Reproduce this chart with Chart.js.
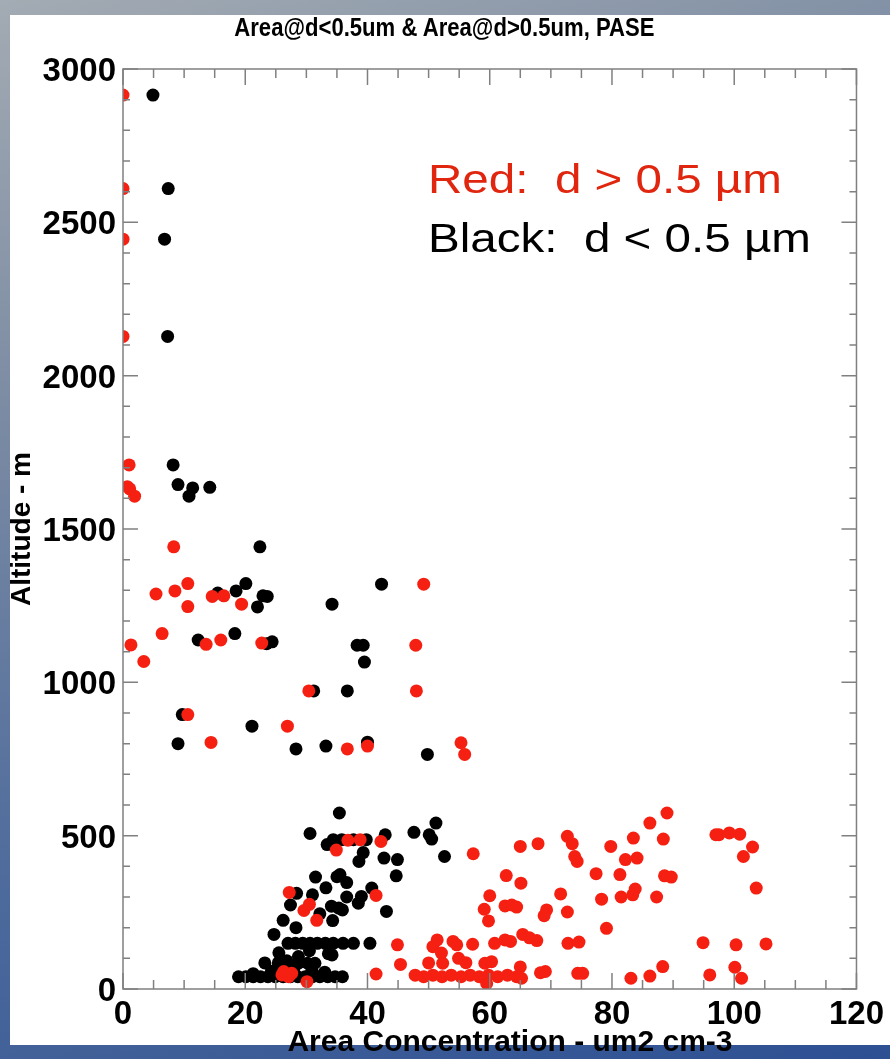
<!DOCTYPE html>
<html>
<head>
<meta charset="utf-8">
<title>Area@d<0.5um & Area@d>0.5um, PASE</title>
<script src="https://cdn.jsdelivr.net/npm/chart.js@4.4.1/dist/chart.umd.min.js"></script>
<style>
  html, body { margin: 0; padding: 0; }
  body {
    width: 890px; height: 1059px; position: relative; overflow: hidden;
    background: linear-gradient(160deg, #a3abb3 0%, #7b8ba3 30%, #4d6a9c 65%, #2d5093 100%);
  }
  #panel { position: absolute; left: 10px; top: 15px; width: 880px; height: 1030px; background: #fff; }
  #wrap { position: absolute; left: 0; top: 0; width: 890px; height: 1059px; }
  #title {
    position: absolute; left: 0; top: 14px; width: 890px; text-align: center;
    font: bold 26px "Liberation Sans", Arial, sans-serif; line-height: 1;
    transform: scaleX(0.85); transform-origin: 441px 0;
  }
  #xtitle {
    position: absolute; left: 0; top: 1026px; width: 1020px; text-align: center;
    font: bold 30px "Liberation Sans", Arial, sans-serif; line-height: 1; white-space: pre;
  }
  .note {
    position: absolute; left: 428px; white-space: pre;
    font: 41px "Liberation Sans", Arial, sans-serif; line-height: 1;
    transform: scaleX(1.16); transform-origin: 0 0;
  }
</style>
</head>
<body>
<div id="panel"></div>
<div id="wrap"><canvas id="chart" width="890" height="1059"></canvas></div>
<div id="title">Area@d&lt;0.5um &amp; Area@d&gt;0.5um, PASE</div>
<div id="xtitle">Area Concentration - um2 cm-3</div>
<div class="note" style="top:159px; color:#e0260e;">Red:  d &gt; 0.5 µm</div>
<div class="note" style="top:218px; color:#000;">Black:  d &lt; 0.5 µm</div>
<script>
// 축 눈금
const xTickValues = [0, 20, 40, 60, 80, 100, 120];
const yTickValues = [0, 500, 1000, 1500, 2000, 2500, 3000];
const xMinorStep = 5;
const yMinorStep = 100;

// d < 0.5 um (검정)
const blackPoints = [
  [4.9, 2915], [7.4, 2610], [6.8, 2445], [7.3, 2128],
  [8.2, 1709], [9.0, 1645], [11.4, 1634], [10.8, 1607], [14.2, 1636], [22.4, 1442],
  [15.5, 1291], [18.5, 1298], [20.1, 1322], [22.9, 1282], [23.6, 1280], [22.0, 1246],
  [18.3, 1159], [12.3, 1138], [23.5, 1126], [24.4, 1132],
  [42.3, 1320], [34.2, 1255], [38.3, 1121], [39.3, 1121], [39.5, 1066], [31.2, 972], [36.7, 972],
  [9.7, 895], [9.0, 800], [21.1, 857], [28.3, 783], [33.2, 792], [40.0, 805], [49.8, 765],
  [35.4, 574], [51.2, 541], [47.6, 511], [50.1, 503], [50.5, 489], [52.6, 432], [42.9, 503],
  [30.6, 507], [33.4, 471], [34.4, 487], [35.8, 487], [37.7, 487], [39.8, 487], [39.3, 445],
  [38.6, 416], [42.7, 427], [44.9, 422], [44.7, 369],
  [35.5, 373], [36.6, 347], [31.5, 365], [35.0, 366], [33.2, 330], [28.4, 312], [31.0, 307],
  [36.6, 300], [39.0, 302], [40.7, 329], [38.5, 280], [43.1, 253],
  [27.4, 274], [34.1, 270], [35.3, 264], [35.9, 258], [32.2, 245], [26.2, 224], [34.3, 223],
  [28.3, 200], [24.7, 178],
  [27.0, 149], [28.2, 149], [29.4, 149], [30.6, 149], [31.8, 149], [33.1, 149], [34.4, 149],
  [36.0, 149], [37.7, 149], [40.4, 149],
  [33.6, 115], [28.7, 106], [34.2, 111], [25.5, 118], [30.5, 125],
  [23.2, 85], [25.4, 85], [28.7, 84], [30.2, 84], [31.4, 84], [26.8, 92],
  [24.3, 58], [27.9, 62], [30.9, 60], [33.0, 55], [21.3, 50],
  [18.9, 40], [20.1, 40], [21.3, 40], [22.5, 40], [23.7, 40], [24.9, 40], [26.2, 40], [27.4, 40],
  [28.6, 40], [29.8, 40], [31.0, 40], [32.2, 40], [33.5, 40], [34.7, 40], [35.9, 40]
];

// d > 0.5 um (빨강)
const redPoints = [
  [0, 2915], [0, 2610], [0, 2445], [0, 2128],
  [1.0, 1709], [0.7, 1638], [1.1, 1631], [1.9, 1607], [8.3, 1442], [5.4, 1288], [8.5, 1298],
  [10.6, 1322], [10.6, 1247], [14.6, 1280], [16.5, 1282], [19.4, 1255], [6.4, 1159], [1.3, 1122],
  [3.4, 1068], [13.6, 1124], [16.0, 1138], [22.7, 1128],
  [49.2, 1320], [47.9, 1121], [30.4, 972], [48.0, 972], [26.9, 857], [10.6, 895], [14.4, 804],
  [36.7, 783], [40.0, 792], [55.3, 803], [55.9, 765],
  [34.9, 453], [36.8, 485], [38.8, 487], [42.2, 481], [27.2, 315], [29.6, 256], [30.5, 276],
  [31.7, 224], [41.4, 305],
  [26.3, 57], [27.1, 40], [26.0, 46], [27.6, 51], [30.1, 24], [41.4, 49], [44.9, 144], [45.4, 80],
  [57.3, 441], [62.7, 370], [65.1, 345], [65.0, 465], [60.0, 304], [59.1, 260], [59.8, 222],
  [62.5, 271], [63.6, 274], [64.4, 267],
  [51.4, 160], [50.7, 138], [54.0, 155], [54.6, 144], [57.2, 146], [52.1, 117], [54.9, 100],
  [56.1, 86], [50.0, 85], [52.3, 84], [60.8, 149], [62.5, 160], [63.4, 155], [65.4, 178],
  [66.5, 167], [59.2, 84], [60.3, 89], [65.0, 72],
  [47.8, 45], [49.2, 40], [50.7, 45], [52.2, 40], [53.7, 45], [55.3, 40], [56.8, 45], [58.3, 40],
  [59.8, 45], [61.3, 40], [62.9, 45], [64.4, 40], [59.5, 18], [65.2, 35],
  [89.0, 574], [86.2, 541], [83.5, 492], [88.4, 489], [97.0, 503], [79.8, 465], [72.7, 498],
  [73.5, 474], [73.9, 432], [74.3, 416], [67.9, 474], [82.2, 422], [84.1, 427], [77.4, 376],
  [81.3, 373], [88.6, 369], [89.7, 365], [71.6, 310], [83.8, 326], [83.4, 307], [81.5, 300],
  [78.3, 293], [87.3, 300], [69.3, 258], [68.9, 239], [72.7, 251], [79.1, 198], [67.7, 158],
  [72.8, 149], [74.6, 153], [94.9, 151], [68.3, 53], [69.1, 57], [74.4, 51], [75.2, 51],
  [83.1, 35], [86.2, 42], [88.3, 73], [96.0, 46],
  [97.5, 503], [99.2, 509], [100.9, 505], [103.0, 463], [101.5, 432], [103.6, 329],
  [100.3, 144], [105.2, 147], [100.1, 71], [101.2, 35]
];

const toXY = arr => arr.map(p => ({ x: p[0], y: p[1] }));
const tickFont = { family: '"Liberation Sans Narrow", "Liberation Sans", Arial, sans-serif', size: 33, weight: 'bold' };
const titleFont = { family: '"Liberation Sans", Arial, sans-serif', size: 28, weight: 'bold' };

// 안쪽으로 향하는 눈금 + 테두리
const framePlugin = {
  id: 'frame',
  afterDatasetsDraw(chart) {
    const { ctx, chartArea: a, scales: { x, y } } = chart;
    ctx.save();
    ctx.strokeStyle = '#808080';
    ctx.lineWidth = 1.5;
    ctx.strokeRect(a.left, a.top, a.right - a.left, a.bottom - a.top);
    ctx.beginPath();
    for (let v = x.min; v <= x.max; v += xMinorStep) {
      const px = x.getPixelForValue(v);
      const len = xTickValues.includes(v) ? 16 : 9;
      ctx.moveTo(px, a.bottom); ctx.lineTo(px, a.bottom - len);
      ctx.moveTo(px, a.top); ctx.lineTo(px, a.top + len);
    }
    for (let v = y.min; v <= y.max; v += yMinorStep) {
      const py = y.getPixelForValue(v);
      const len = yTickValues.includes(v) ? 15 : 7;
      ctx.moveTo(a.left, py); ctx.lineTo(a.left + len, py);
      ctx.moveTo(a.right, py); ctx.lineTo(a.right - len, py);
    }
    ctx.stroke();
    ctx.restore();
  }
};

new Chart(document.getElementById('chart'), {
  type: 'scatter',
  data: {
    datasets: [
      { label: 'd > 0.5 um', data: toXY(redPoints), backgroundColor: 'rgb(245,32,18)', order: 0, clip: 0 },
      { label: 'd < 0.5 um', data: toXY(blackPoints), backgroundColor: '#000', order: 1, clip: 0 }
    ]
  },
  options: {
    responsive: false,
    animation: false,
    events: [],
    layout: { padding: { top: 69, right: 22, bottom: 0, left: 0 } },
    elements: { point: { radius: 6.5, borderWidth: 0, hoverRadius: 6.5 } },
    plugins: { legend: { display: false }, tooltip: { enabled: false } },
    scales: {
      x: {
        type: 'linear', min: 0, max: 120,
        afterBuildTicks: s => { s.ticks = xTickValues.map(v => ({ value: v })); },
        afterFit: s => { s.height = 70; },
        grid: { display: false, drawTicks: false },
        border: { display: false },
        ticks: { color: '#000', font: tickFont, padding: 6, maxRotation: 0, callback: v => String(v) },
        title: { display: false }
      },
      y: {
        type: 'linear', min: 0, max: 3000,
        afterBuildTicks: s => { s.ticks = yTickValues.map(v => ({ value: v })); },
        afterFit: s => { s.width = 123; },
        grid: { display: false, drawTicks: false },
        border: { display: false },
        ticks: { color: '#000', font: tickFont, padding: 7, labelOffset: 3, callback: v => String(v) },
        title: { display: true, text: 'Altitude - m', color: '#000', font: titleFont, padding: { top: 5, bottom: 0 } }
      }
    }
  },
  plugins: [framePlugin]
});
</script>
</body>
</html>
